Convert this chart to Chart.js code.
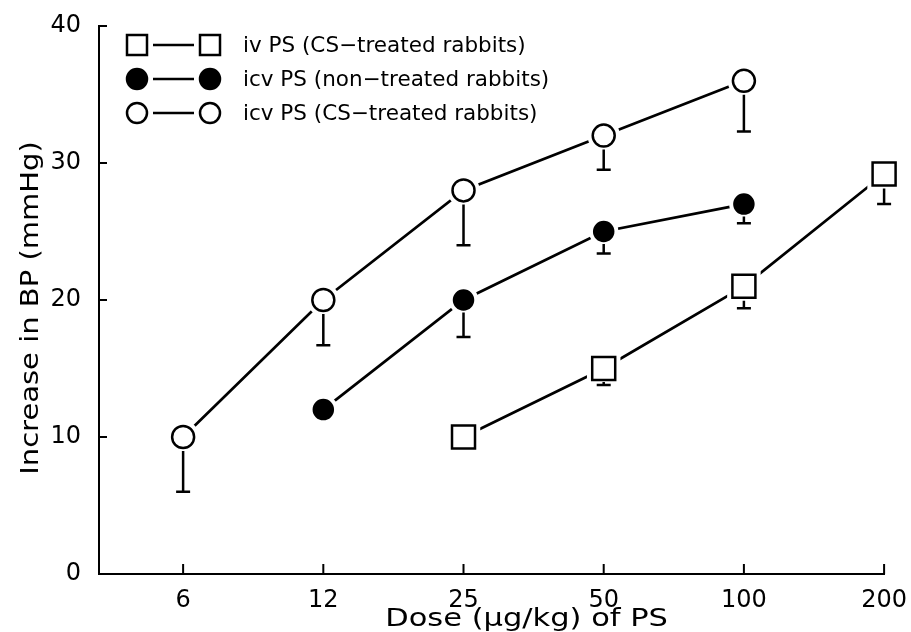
<!DOCTYPE html>
<html>
<head>
<meta charset="utf-8">
<script src="https://cdn.jsdelivr.net/npm/chart.js@4.4.1/dist/chart.umd.min.js"></script>
<style>
  html, body { margin: 0; padding: 0; background: #fff; }
  #wrap { width: 911px; height: 632px; }
</style>
</head>
<body>
<div id="wrap"><canvas id="bpChart"></canvas></div>
<script>
// doses on the x axis (ug/kg), evenly spaced categories
const doses = ['6', '12', '25', '50', '100', '200'];
const yTicks = [0, 10, 20, 30, 40];

// mean increase in BP (mmHg); null = dose not given
const ivCS = [null, null, 10, 15, 21, 29.2];
const icvNon = [null, 12, 20, 25, 27, null];
const icvCS = [10, 20, 28, 32, 36, null];

// lower end of each error bar (only the lower half is drawn)
const ivCSLow = [null, null, null, 13.8, 19.4, 27];
const icvNonLow = [null, null, 17.3, 23.4, 25.6, null];
const icvCSLow = [6, 16.7, 24, 29.5, 32.3, null];

const seriesNames = [
    'iv PS (CS\u2212treated rabbits)',
    'icv PS (non\u2212treated rabbits)',
    'icv PS (CS\u2212treated rabbits)'
];

const FONT = "'DejaVu Sans', 'Liberation Sans', sans-serif";

function toPoints(arr) {
    return arr.map((v, i) => v === null ? null : { x: i, y: v }).filter(p => p);
}
function toLows(vals, lows) {
    return vals.map((v, i) => ({ v, lo: lows[i] })).filter(p => p.v !== null).map(p => p.lo);
}

// text drawn a bit wider than the font, like the original typesetting
function wideText(ctx, text, x, y, sx, rot) {
    ctx.save();
    ctx.translate(x, y);
    if (rot) ctx.rotate(rot);
    ctx.scale(sx, 1);
    ctx.fillText(text, 0, 0);
    ctx.restore();
}

// marker with a white halo so the joining lines stop short of it
function drawMarker(ctx, kind, x, y, r, halo) {
    ctx.save();
    ctx.beginPath();
    if (kind === 'rect') ctx.rect(x - r, y - r, 2 * r, 2 * r);
    else ctx.arc(x, y, r, 0, Math.PI * 2);
    if (halo) {
        ctx.strokeStyle = '#fff';
        ctx.lineWidth = 2.5 + halo * 2;
        ctx.stroke();
    }
    ctx.fillStyle = kind === 'filled' ? '#000' : '#fff';
    ctx.fill();
    ctx.strokeStyle = '#000';
    ctx.lineWidth = 2.5;
    ctx.stroke();
    ctx.restore();
}

// markers and error bars, placed at the points the line controller laid out
const markersAndBars = {
    id: 'markersAndBars',
    afterDatasetsDraw(chart) {
        const ctx = chart.ctx;
        const yScale = chart.scales.y;
        chart.data.datasets.forEach((ds, i) => {
            chart.getDatasetMeta(i).data.forEach(pt => {
                drawMarker(ctx, ds.markerKind, pt.x, pt.y, ds.markerSize, 4);
            });
        });
        ctx.save();
        ctx.strokeStyle = '#000';
        ctx.lineWidth = 2.5;
        chart.data.datasets.forEach((ds, i) => {
            chart.getDatasetMeta(i).data.forEach((pt, j) => {
                const lo = ds.lows[j];
                if (lo === null || lo === undefined) return;
                const yLo = yScale.getPixelForValue(lo);
                ctx.beginPath();
                ctx.moveTo(pt.x, Math.min(pt.y + ds.markerSize + 3, yLo - 3));
                ctx.lineTo(pt.x, yLo);
                ctx.moveTo(pt.x - 7, yLo);
                ctx.lineTo(pt.x + 7, yLo);
                ctx.stroke();
            });
        });
        ctx.restore();
    }
};

// ticks pointing into the plot, axis titles and the legend box
const decorations = {
    id: 'decorations',
    afterDraw(chart) {
        const ctx = chart.ctx;
        const { left, top, bottom } = chart.chartArea;
        const xs = chart.scales.x, ys = chart.scales.y;

        ctx.save();
        ctx.strokeStyle = '#000';
        ctx.lineWidth = 2;
        ctx.beginPath();
        xs.ticks.forEach(t => {
            const px = xs.getPixelForValue(t.value);
            ctx.moveTo(px, bottom);
            ctx.lineTo(px, bottom - 10);
        });
        ys.ticks.forEach(t => {
            const py = ys.getPixelForValue(t.value);
            ctx.moveTo(left, py);
            ctx.lineTo(left + 8, py);
        });
        ctx.stroke();

        ctx.fillStyle = '#000';
        ctx.font = '24px ' + FONT;
        ctx.textAlign = 'center';
        ctx.textBaseline = 'alphabetic';
        wideText(ctx, 'Dose (\u03bcg/kg) of PS', xs.getPixelForValue(2.45), 626, 1.27, 0);
        ctx.font = '25px ' + FONT;
        wideText(ctx, 'Increase in BP (mmHg)', 38, (top + bottom) / 2 + 8, 1.16, -Math.PI / 2);

        // legend
        const rows = [top + 19, top + 53, top + 87];
        ctx.font = '21.5px ' + FONT;
        ctx.textAlign = 'left';
        ctx.textBaseline = 'middle';
        chart.data.datasets.forEach((ds, i) => {
            const y = rows[i];
            const x1 = left + 38, x2 = left + 111;
            ctx.lineWidth = 2.5;
            ctx.beginPath();
            ctx.moveTo(x1 + 16, y);
            ctx.lineTo(x2 - 16, y);
            ctx.stroke();
            drawMarker(ctx, ds.markerKind, x1, y, 10, 0);
            drawMarker(ctx, ds.markerKind, x2, y, 10, 0);
            ctx.fillText(ds.label, left + 144, y + 1);
        });
        ctx.restore();
    }
};

const ctx = document.getElementById('bpChart').getContext('2d');

const lineStyle = {
    pointRadius: 0,
    pointHoverRadius: 0,
    borderColor: '#000',
    borderWidth: 2.7,
    clip: false
};

new Chart(ctx, {
    type: 'line',
    data: {
        datasets: [
            Object.assign({
                label: seriesNames[0],
                data: toPoints(ivCS),
                lows: toLows(ivCS, ivCSLow),
                markerKind: 'rect',
                markerSize: 11.5
            }, lineStyle),
            Object.assign({
                label: seriesNames[1],
                data: toPoints(icvNon),
                lows: toLows(icvNon, icvNonLow),
                markerKind: 'filled',
                markerSize: 9.5
            }, lineStyle),
            Object.assign({
                label: seriesNames[2],
                data: toPoints(icvCS),
                lows: toLows(icvCS, icvCSLow),
                markerKind: 'open',
                markerSize: 11
            }, lineStyle)
        ]
    },
    options: {
        responsive: true,
        maintainAspectRatio: false,
        animation: false,
        layout: { padding: { top: 26, right: 24, bottom: 0, left: 0 } },
        plugins: {
            legend: { display: false },
            tooltip: { enabled: false }
        },
        elements: { line: { tension: 0 } },
        scales: {
            x: {
                type: 'linear',
                min: -0.6,
                max: 5,
                afterBuildTicks: s => { s.ticks = doses.map((d, i) => ({ value: i })); },
                afterFit: s => { s.height = 58; },
                grid: { display: false },
                border: { display: true, color: '#000', width: 2 },
                ticks: {
                    color: '#000',
                    padding: 4,
                    font: { family: FONT, size: 24 },
                    callback: v => doses[v]
                }
            },
            y: {
                min: 0,
                max: 40,
                afterBuildTicks: s => { s.ticks = yTicks.map(v => ({ value: v })); },
                afterFit: s => { s.width = 99; },
                grid: { display: false },
                border: { display: true, color: '#000', width: 2 },
                ticks: {
                    color: '#000',
                    padding: 10,
                    font: { family: FONT, size: 24 }
                }
            }
        }
    },
    plugins: [markersAndBars, decorations]
});
</script>
</body>
</html>
